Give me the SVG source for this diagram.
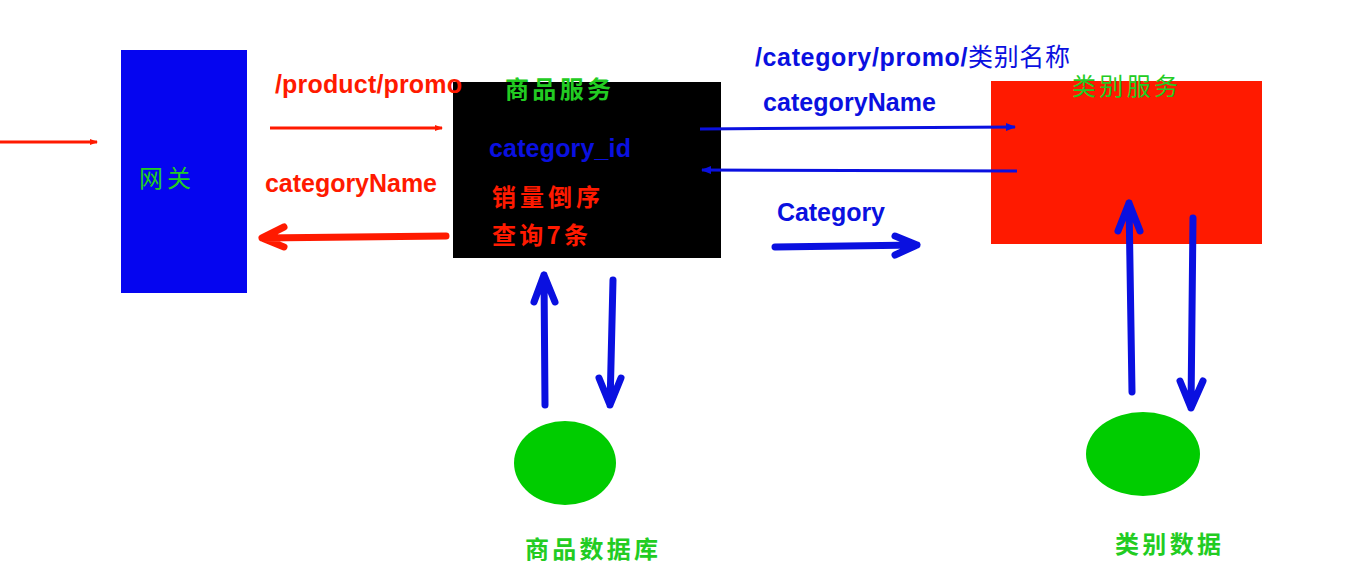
<svg xmlns="http://www.w3.org/2000/svg" width="1365" height="583" viewBox="0 0 1365 583">
<style>
.t{font-family:"Liberation Sans","Noto Sans CJK SC",sans-serif;font-weight:bold;font-size:25px}
.cjk{font-family:"Noto Sans CJK SC","Liberation Sans",sans-serif;font-size:24px}
.g{fill:#22cc22}
.r{fill:#ff1a00}
.b{fill:#0a10e0}
.thin{fill:none;stroke-width:3}
.thick{fill:none;stroke-width:7;stroke-linecap:round;stroke-linejoin:round}
.red{stroke:#ff1a00}
.blue{stroke:#0a10e0}
</style>
<defs>
<marker id="hr" markerWidth="8" markerHeight="6" refX="7" refY="3" orient="auto" markerUnits="userSpaceOnUse" viewBox="0 0 8 6"><path d="M0,0 L8,3 L0,6 Z" fill="#ff1a00"/></marker>
<marker id="hb" markerWidth="10" markerHeight="8" refX="9" refY="4" orient="auto" markerUnits="userSpaceOnUse" viewBox="0 0 10 8"><path d="M0,0 L10,4 L0,8 Z" fill="#0a10e0"/></marker>
</defs>
<rect width="1365" height="583" fill="#ffffff"/>
<g id="gateway">
<rect x="121" y="50" width="126" height="243" fill="#0505f0"/>
<text class="cjk g" x="139" y="187" textLength="52" lengthAdjust="spacing">网关</text>
</g>
<g id="product-service">
<rect x="453" y="82" width="268" height="176" fill="#000000"/>
<text class="cjk g" x="505" y="98" font-weight="bold" textLength="106" lengthAdjust="spacing">商品服务</text>
<text class="t b" x="489" y="157" textLength="142" lengthAdjust="spacing">category_id</text>
<text class="cjk r" x="492" y="206" font-weight="bold" textLength="108" lengthAdjust="spacing">销量倒序</text>
<text class="cjk r" x="492" y="244" font-weight="bold" textLength="96" lengthAdjust="spacing">查询7条</text>
</g>
<g id="category-service">
<rect x="991" y="81" width="271" height="163" fill="#ff1a00"/>
<text class="cjk g" x="1072" y="95" textLength="106" lengthAdjust="spacing">类别服务</text>
</g>
<g id="product-db">
<ellipse cx="565" cy="463" rx="51" ry="42" fill="#00cc00"/>
<text class="cjk g" x="525" y="558" font-weight="bold" textLength="133" lengthAdjust="spacing">商品数据库</text>
</g>
<g id="category-db">
<ellipse cx="1143" cy="454" rx="57" ry="42" fill="#00cc00"/>
<text class="cjk g" x="1115" y="553" font-weight="bold" textLength="106" lengthAdjust="spacing">类别数据</text>
</g>
<g id="connectors">
<line class="thin red" x1="0" y1="142" x2="97" y2="142" marker-end="url(#hr)"/>
<line class="thin red" x1="270" y1="128" x2="442" y2="128" marker-end="url(#hr)"/>
<text class="t r" x="275" y="93" textLength="187" lengthAdjust="spacing">/product/promo</text>
<text class="t r" x="265" y="192" textLength="172" lengthAdjust="spacing">categoryName</text>
<path class="thick red" d="M446,236 L262,238 M284,227 L262,238 L284,247"/>
<line class="thin blue" x1="700" y1="129" x2="1015" y2="127" marker-end="url(#hb)"/>
<line class="thin blue" x1="1017" y1="171" x2="702" y2="170" marker-end="url(#hb)"/>
<text class="t b" x="755" y="66" textLength="315" lengthAdjust="spacing">/category/promo/<tspan font-family="Noto Sans CJK SC,sans-serif" font-weight="normal">类别名称</tspan></text>
<text class="t b" x="763" y="111" textLength="173" lengthAdjust="spacing">categoryName</text>
<text class="t b" x="777" y="221" textLength="108" lengthAdjust="spacing">Category</text>
<path class="thick blue" d="M775,247 L917,245 M895,236 L917,245 L895,255"/>
<path class="thick blue" d="M545,405 L544,275 M534,302 L544,275 L555,302"/>
<path class="thick blue" d="M613,280 L610,405 M599,378 L610,405 L621,378"/>
<path class="thick blue" d="M1132,392 L1129,203 M1118,231 L1129,203 L1140,231"/>
<path class="thick blue" d="M1193,218 L1191,408 M1180,381 L1191,408 L1203,381"/>
</g>
</svg>
